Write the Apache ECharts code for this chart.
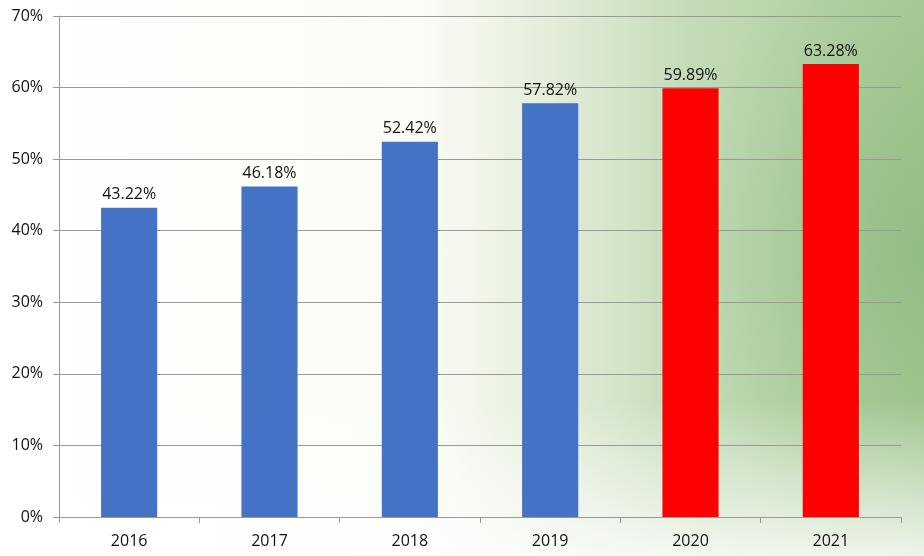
<!DOCTYPE html>
<html>
<head>
<meta charset="utf-8">
<script src="https://cdn.jsdelivr.net/npm/echarts@6/dist/echarts.min.js"></script>
<style>
  html, body { margin: 0; padding: 0; }
  body {
    width: 924px; height: 556px; overflow: hidden;
    background:
      linear-gradient(to bottom, rgba(255,255,255,0) 72%, rgba(255,255,255,0.8) 100%),
      radial-gradient(ellipse 240px 320px at 920px 250px, rgba(120,168,105,0.45), rgba(120,168,105,0) 100%),
      linear-gradient(to right, #ffffff 0px, #fcfcf6 420px, #e1ecd8 560px, #c2dab5 700px, #a9cc98 924px);
  }
  #chart { width: 924px; height: 556px; }
</style>
</head>
<body>
<div id="chart"></div>
<script>
// 数据
const years = ['2016', '2017', '2018', '2019', '2020', '2021'];
const rates = [43.22, 46.18, 52.42, 57.82, 59.89, 63.28];
const highlightYears = ['2020', '2021'];
const yTicks = [0, 10, 20, 30, 40, 50, 60, 70];

const chart = echarts.init(document.getElementById('chart'));

const labelFont = '"Open Sans", Lato, sans-serif';

chart.setOption({
  backgroundColor: 'transparent',
  animation: false,
  grid: { left: 59, right: 23, top: 16, bottom: 39 },
  xAxis: {
    type: 'category',
    data: years,
    axisLine: { lineStyle: { color: '#999', width: 1 } },
    axisTick: { show: true, length: 6, lineStyle: { color: '#999' } },
    axisLabel: { color: '#111', fontSize: 16, fontFamily: labelFont, margin: 16 }
  },
  yAxis: {
    type: 'value',
    min: yTicks[0],
    max: yTicks[yTicks.length - 1],
    interval: 10,
    axisLine: { show: true, lineStyle: { color: '#999', width: 1 } },
    axisTick: { show: true, length: 6, lineStyle: { color: '#999' } },
    axisLabel: {
      color: '#111', fontSize: 16, fontFamily: labelFont, margin: 16,
      formatter: v => v + '%'
    },
    splitLine: { lineStyle: { color: '#999', width: 1 } }
  },
  series: [{
    type: 'bar',
    barWidth: '40%',
    data: rates.map((v, i) => ({
      value: v,
      itemStyle: { color: highlightYears.includes(years[i]) ? '#ff0000' : '#4472c4' }
    })),
    label: {
      show: true,
      position: 'top',
      distance: 5,
      color: '#111',
      fontSize: 16,
      fontFamily: labelFont,
      formatter: p => p.value.toFixed(2) + '%'
    }
  }]
});
</script>
</body>
</html>
